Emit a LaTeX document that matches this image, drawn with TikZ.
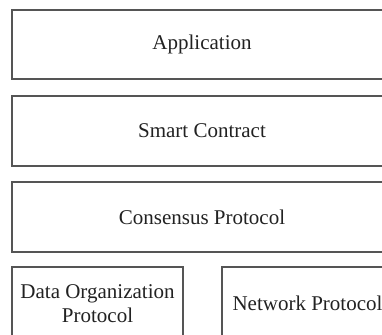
\documentclass[tikz,border=0pt]{standalone}
\usepackage{fontspec}
\setmainfont{Liberation Serif}
\definecolor{edge}{HTML}{555555}
\definecolor{ink}{HTML}{222222}
\begin{document}
\begin{tikzpicture}[x=1pt,y=-1pt,
  box/.style={draw=edge, line width=2pt, rectangle, anchor=north west, inner sep=0pt, outer sep=0pt,
    text=ink, font=\fontsize{21}{24}\selectfont, align=center}]
\useasboundingbox (0,0) rectangle (382,334);
\clip (0,0) rectangle (382,334);
\node[box, minimum width=380pt, minimum height=69pt] (app) at (12,10) {Application};
\node[box, minimum width=380pt, minimum height=70pt] (sc) at (12,96) {Smart Contract};
\node[box, minimum width=380pt, minimum height=70pt] (cp) at (12,182) {Consensus Protocol};
\node[box, minimum width=171pt, minimum height=73pt] (dop) at (12,267) {Data Organization\\Protocol};
\node[box, minimum width=171pt, minimum height=73pt] (np) at (222,267) {Network Protocol};
\end{tikzpicture}
\end{document}
